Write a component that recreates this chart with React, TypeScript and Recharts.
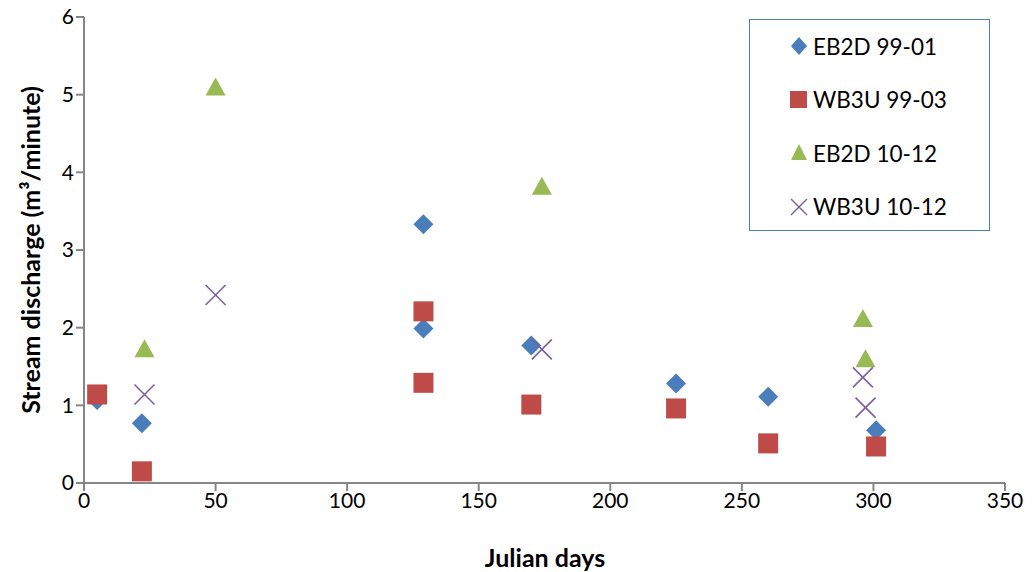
import { ScatterChart, Scatter, XAxis, YAxis } from "recharts";

// Julian day / discharge pairs
const eb2d9901X = [5, 22, 129, 129, 170, 225, 260, 301];
const eb2d9901Y = [1.07, 0.77, 3.33, 1.99, 1.77, 1.28, 1.11, 0.68];
const wb3u9903X = [5, 22, 129, 129, 170, 225, 260, 301];
const wb3u9903Y = [1.14, 0.15, 2.21, 1.29, 1.01, 0.96, 0.51, 0.47];
const eb2d1012X = [23, 50, 174, 296, 297];
const eb2d1012Y = [1.71, 5.08, 3.8, 2.1, 1.58];
const wb3u1012X = [23, 50, 174, 296, 297];
const wb3u1012Y = [1.14, 2.42, 1.72, 1.36, 0.97];

const xTicks = [0, 50, 100, 150, 200, 250, 300, 350];
const yTicks = [0, 1, 2, 3, 4, 5, 6];

const zip = (xs: number[], ys: number[]) => xs.map((x, i) => ({ x, y: ys[i] }));

const FONT = "Lato, 'Open Sans', sans-serif";
const AXIS = "#868686";

const Diamond = ({ cx, cy, fill }: any) => (
  <polygon points={`${cx},${cy - 10} ${cx + 10},${cy} ${cx},${cy + 10} ${cx - 10},${cy}`} fill={fill} />
);
const Square = ({ cx, cy, fill }: any) => (
  <rect x={cx - 10} y={cy - 10} width={20} height={20} fill={fill} />
);
const Triangle = ({ cx, cy, fill }: any) => (
  <polygon points={`${cx},${cy - 11} ${cx + 10},${cy + 7} ${cx - 10},${cy + 7}`} fill={fill} />
);
const Cross = ({ cx, cy, fill }: any) => (
  <g stroke={fill} strokeWidth={1.6}>
    <line x1={cx - 10} y1={cy - 10} x2={cx + 10} y2={cy + 10} />
    <line x1={cx - 10} y1={cy + 10} x2={cx + 10} y2={cy - 10} />
  </g>
);

const series = [
  { name: "EB2D 99-01", data: zip(eb2d9901X, eb2d9901Y), color: "#4A7EBB", Shape: Diamond },
  { name: "WB3U 99-03", data: zip(wb3u9903X, wb3u9903Y), color: "#BE4B48", Shape: Square },
  { name: "EB2D 10-12", data: zip(eb2d1012X, eb2d1012Y), color: "#98B954", Shape: Triangle },
  { name: "WB3U 10-12", data: zip(wb3u1012X, wb3u1012Y), color: "#7D60A0", Shape: Cross },
];

const LegendBox = () => (
  <div
    style={{
      position: "absolute",
      left: 749,
      top: 19,
      width: 241,
      height: 212,
      border: "1.5px solid #4A7EBB",
      background: "#fff",
      boxSizing: "border-box",
      fontFamily: FONT,
      fontSize: 22.5,
      color: "#000",
    }}
  >
    {series.map((s, i) => (
      <div
        key={s.name}
        style={{ position: "absolute", top: 12 + i * 53.5, left: 37, display: "flex", alignItems: "center", height: 28 }}
      >
        <svg width={24} height={24} style={{ marginRight: 2 }}>
          {s.Shape === Square ? (
            <rect x={3} y={3} width={17} height={17} fill={s.color} />
          ) : s.Shape === Diamond ? (
            <polygon points="12,3 20,12 12,21 4,12" fill={s.color} />
          ) : s.Shape === Triangle ? (
            <polygon points="12,3 20,19 4,19" fill={s.color} />
          ) : (
            <g stroke={s.color} strokeWidth={1.4}>
              <line x1={4} y1={4} x2={20} y2={20} />
              <line x1={4} y1={20} x2={20} y2={4} />
            </g>
          )}
        </svg>
        <span>{s.name}</span>
      </div>
    ))}
  </div>
);

const YLabel = () => (
  <text
    x={30}
    y={250}
    transform="rotate(-90 30 250)"
    textAnchor="middle"
    dominantBaseline="central"
    fontFamily={FONT}
    fontWeight="bold"
    fontSize={25}
    fill="#000"
  >
    Stream discharge (m³/minute)
  </text>
);

const XLabel = () => (
  <text
    x={545}
    y={557}
    textAnchor="middle"
    dominantBaseline="central"
    fontFamily={FONT}
    fontWeight="bold"
    fontSize={25}
    fill="#000"
  >
    Julian days
  </text>
);

export default function App() {
  return (
    <div style={{ position: "absolute", left: 0, top: 0, width: 1034, height: 572, background: "#fff" }}>
      <ScatterChart width={1034} height={572} margin={{ top: 17, right: 29, bottom: 0, left: 0 }}>
        <XAxis
          type="number"
          dataKey="x"
          domain={[0, 350]}
          ticks={xTicks}
          axisLine={{ stroke: AXIS, strokeWidth: 2 }}
          tickLine={{ stroke: AXIS, strokeWidth: 2 }}
          tickSize={8}
          tick={{ fill: "#000", fontSize: 21, fontFamily: FONT }}
          height={89}
          label={<XLabel />}
        />
        <YAxis
          type="number"
          dataKey="y"
          domain={[0, 6]}
          ticks={yTicks}
          axisLine={{ stroke: AXIS, strokeWidth: 2 }}
          tickLine={{ stroke: AXIS, strokeWidth: 2 }}
          tickSize={8}
          tick={{ fill: "#000", fontSize: 21, fontFamily: FONT }}
          width={84}
          label={<YLabel />}
        />
        {series.map((s) => (
          <Scatter
            key={s.name}
            name={s.name}
            data={s.data}
            fill={s.color}
            shape={<s.Shape />}
            isAnimationActive={false}
          />
        ))}
      </ScatterChart>
      <LegendBox />
    </div>
  );
}
